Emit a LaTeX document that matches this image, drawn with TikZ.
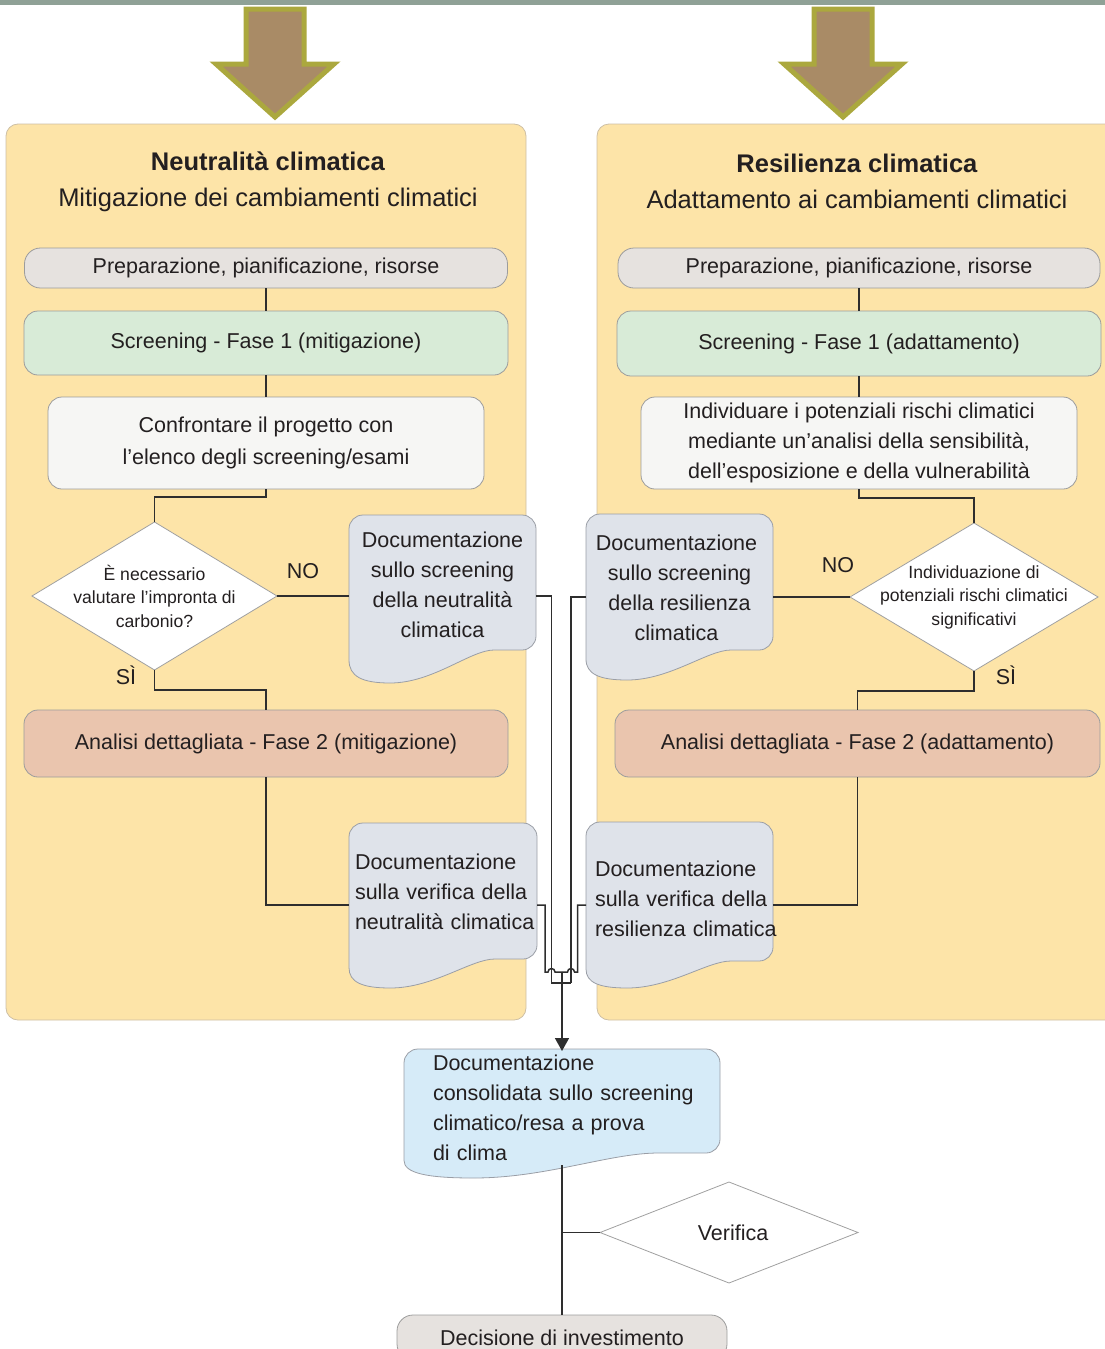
\documentclass[tikz,border=0pt]{standalone}
\usepackage{fontspec}
\setmainfont{Liberation Sans}
\usetikzlibrary{shapes.geometric,arrows.meta,calc}

\definecolor{ink}{HTML}{231F20}
\definecolor{topbar}{HTML}{8FA196}
\definecolor{panel}{HTML}{FDE4A8}
\definecolor{panedge}{HTML}{CDBFA5}
\definecolor{edge}{HTML}{9C9C9C}
\definecolor{diaedge}{HTML}{A0A0A0}
\definecolor{docedge}{HTML}{9A9EA6}
\definecolor{wirec}{HTML}{2E2E2E}
\definecolor{prepfill}{HTML}{E6E2DF}
\definecolor{scrfill}{HTML}{D8EBD7}
\definecolor{cmpfill}{HTML}{F6F6F4}
\definecolor{docfill}{HTML}{DFE3EA}
\definecolor{anafill}{HTML}{EAC5AE}
\definecolor{cdocfill}{HTML}{D6EBF8}
\definecolor{arrowfill}{HTML}{A98B66}
\definecolor{arrowedge}{HTML}{ABA83E}

\newcommand\fsz[2]{\fontsize{#1pt}{#2pt}\selectfont}
% document symbol: left x, top y, right x, bottom y of right side, wave depth, fill
\newcommand\docbg[6]{%
  \filldraw[fill=#6, draw=docedge, line width=0.8pt]
    (#1,{#4+0.3*#5}) [rounded corners=14pt] -- (#1,#2) -- (#3,#2) -- (#3,#4)
    -- ({#3-0.15*(#3-#1)},#4) [sharp corners]
    .. controls ({#3-0.35*(#3-#1)},#4) and ({#1+0.45*(#3-#1)},{#4+#5}) .. ({#1+0.22*(#3-#1)},{#4+#5})
    .. controls ({#1+0.07*(#3-#1)},{#4+#5}) and (#1,{#4+0.8*#5}) .. cycle;}

\begin{document}
\hyphenpenalty=10000
\exhyphenpenalty=10000
\hbadness=10000
\hfuzz=100pt
\begin{tikzpicture}[x=1pt,y=-1pt,
  sbase/.style={text=ink, inner sep=0pt, outer sep=0pt},
  pill/.style={sbase, draw=edge, line width=0.8pt, align=center, font=\fsz{21.5}{30}},
  dia/.style={sbase, shape=diamond, draw=diaedge, fill=white, line width=0.8pt},
  diatext/.style={sbase, align=center, font=\fsz{17.6}{23.5}},
  docc/.style={sbase, align=center, font=\fsz{21.5}{30}},
  docl/.style={sbase, align=left, font=\fsz{21.5}{30}},
  wire/.style={draw=wirec, line width=1.5pt},
  lab/.style={sbase, font=\fsz{21.5}{26}},
  ttl/.style={sbase, align=center, font=\fsz{25.5}{36}},
  panelbox/.style={fill=panel, draw=panedge, line width=0.8pt, rounded corners=12pt},
  bigarrow/.style={fill=arrowfill, draw=arrowedge, line width=5pt, line join=miter},
]
\useasboundingbox (0,0) rectangle (1105,1349);

% top band and entry arrows
\fill[topbar] (0,0) rectangle (1105,5);
\draw[bigarrow] (246,9) -- (304,9) -- (304,64) -- (334,64) -- (275,117) -- (216,64) -- (246,64) -- cycle;
\draw[bigarrow] (814,9) -- (872,9) -- (872,64) -- (902,64) -- (843,117) -- (784,64) -- (814,64) -- cycle;

% the two panels
\draw[panelbox] (6,124) rectangle (526,1020);
\draw[panelbox] (597,124) rectangle (1125,1020);

\node[ttl] (Ltitle) at (268,182) {\textbf{Neutralità climatica}\\Mitigazione dei cambiamenti climatici};
\node[ttl] (Rtitle) at (857,181) {\textbf{Resilienza climatica}\\Adattamento ai cambiamenti climatici};

% left column
\node[pill, fill=prepfill, minimum width=483pt, minimum height=40pt, rounded corners=16pt] (Lprep) at (266,268) {Preparazione, pianificazione, risorse};
\node[pill, fill=scrfill, minimum width=484pt, minimum height=64pt, rounded corners=14pt] (Lscr) at (266,343) {Screening - Fase 1 (mitigazione)};
\node[pill, fill=cmpfill, minimum width=436pt, minimum height=92pt, rounded corners=14pt, font=\fsz{21.5}{32}] (Lcmp) at (266,443) {Confrontare il progetto con\\l’elenco degli screening/esami};
\node[dia, minimum width=245pt, minimum height=148pt] (Ldia) at (154.5,596) {};
\node[diatext] (Ldiat) at (Ldia) {È necessario\\valutare l’impronta di\\carbonio?};
\node[pill, fill=anafill, minimum width=484pt, minimum height=67pt, rounded corners=14pt] (Lana) at (266,743.5) {Analisi dettagliata - Fase 2 (mitigazione)};

\docbg{349}{515}{536}{650}{33}{docfill}
\node[docc, minimum width=187pt, minimum height=140pt] (Ldoc1) at (442.5,585) {Documentazione\\sullo screening\\della neutralità\\climatica};
\docbg{349}{823}{537}{959}{29}{docfill}
\node[docl, text width=176pt, inner xsep=6pt, minimum height=138pt] (Ldoc2) at (443,892) {Documentazione\\sulla~verifica~della\\neutralità~climatica};

% right column
\node[pill, fill=prepfill, minimum width=482pt, minimum height=40pt, rounded corners=16pt] (Rprep) at (859,268) {Preparazione, pianificazione, risorse};
\node[pill, fill=scrfill, minimum width=484pt, minimum height=65pt, rounded corners=14pt] (Rscr) at (859,343.5) {Screening - Fase 1 (adattamento)};
\node[pill, fill=cmpfill, minimum width=436pt, minimum height=92pt, rounded corners=14pt] (Rind) at (859,443) {Individuare i potenziali rischi climatici\\mediante un’analisi della sensibilità,\\dell’esposizione e della vulnerabilità};
\node[dia, minimum width=248pt, minimum height=148pt] (Rdia) at (974,597) {};
\node[diatext] (Rdiat) at (Rdia) {Individuazione di\\potenziali rischi climatici\\significativi};
\node[pill, fill=anafill, minimum width=485pt, minimum height=67pt, rounded corners=14pt] (Rana) at (857.5,743.5) {Analisi dettagliata - Fase 2 (adattamento)};

\docbg{586}{514}{773}{650}{30}{docfill}
\node[docc, minimum width=187pt, minimum height=140pt] (Rdoc1) at (679.5,588) {Documentazione\hspace*{6pt}\\sullo screening\hspace*{6pt}\\della resilienza\hspace*{6pt}\\climatica\hspace*{6pt}};
\docbg{586}{822}{773}{961}{27}{docfill}
\node[docl, text width=169pt, inner xsep=9pt, minimum height=124pt] (Rdoc2) at (679.5,899) {Documentazione\\sulla~verifica~della\\resilienza~climatica};

% consolidation, check and decision
\docbg{404}{1049}{720}{1153}{25}{cdocfill}
\node[docl, text width=258pt, inner xsep=29pt, minimum height=114pt] (Cdoc) at (562,1108) {Documentazione\\consolidata~sullo~screening\\climatico/resa a prova\\di clima};
\node[dia, minimum width=258pt, minimum height=101pt, font=\fsz{21.5}{26}] (Ver) at (729,1232.5) {\hspace*{8pt}Verifica};
\node[pill, fill=prepfill, minimum width=330pt, minimum height=45pt, rounded corners=16pt, text depth=0pt] (Dec) at (562,1337.5) {Decisione di investimento};

% branch labels
\node[lab] (LNO) at (303,571) {NO};
\node[lab] (LSI) at (126,675) {SÌ};
\node[lab] (RNO) at (838,565) {NO};
\node[lab] (RSI) at (1006,675) {SÌ};

% left flow
\draw[wire] (Lprep.south) -- (Lscr.north);
\draw[wire] (Lscr.south) -- (Lcmp.north);
\draw[wire] (Lcmp.south) -- ++(0,8) -| (Ldia.north);
\draw[wire] (Ldia.east) -- (Ldia.east -| Ldoc1.west);
\draw[wire] (Ldia.south) -- ++(0,20) -| (Lana.north);
\coordinate (yv) at (0,905);
\draw[wire] (Lana.south) |- (Ldoc2.west |- yv);

% right flow
\draw[wire] (Rprep.south) -- (Rscr.north);
\draw[wire] (Rscr.south) -- (Rind.north);
\draw[wire] (Rind.south) -- ++(0,9) -| (Rdia.north);
\draw[wire] (Rdia.west) -- (Rdia.west -| Rdoc1.east);
\draw[wire] (Rdia.south) -- ++(0,20) -| (Rana.north);
\draw[wire] (Rana.south) |- (Rdoc2.east |- yv);

% collecting bus between the panels
\coordinate (busA) at (551.5,983);
\coordinate (busB) at (571,983);
\coordinate (hopL) at (545,972);
\coordinate (hopR) at (577.5,972);
\coordinate (busC) at (562,972);
\draw[wire] (Ldoc1.east |- Ldia.east) -| (busA) -- (busB);
\draw[wire] (Rdoc1.west |- Rdia.west) -| (busB);
\draw[wire] (Ldoc2.east |- yv) -| (hopL) -- ++(3,0) arc[start angle=180, end angle=0, radius=3.5pt] -- (busC);
\draw[wire] (Rdoc2.west |- yv) -| (hopR) -- ++(-3,0) arc[start angle=0, end angle=180, radius=3.5pt] -- (busC);
\draw[wire, -{Triangle[width=14pt,length=13pt]}] (busC) -- (Cdoc.north);

\draw[wire] (Cdoc.south) -- (Dec.north);
\draw[wire] (Cdoc.south |- Ver.west) -- (Ver.west);
\end{tikzpicture}
\end{document}
